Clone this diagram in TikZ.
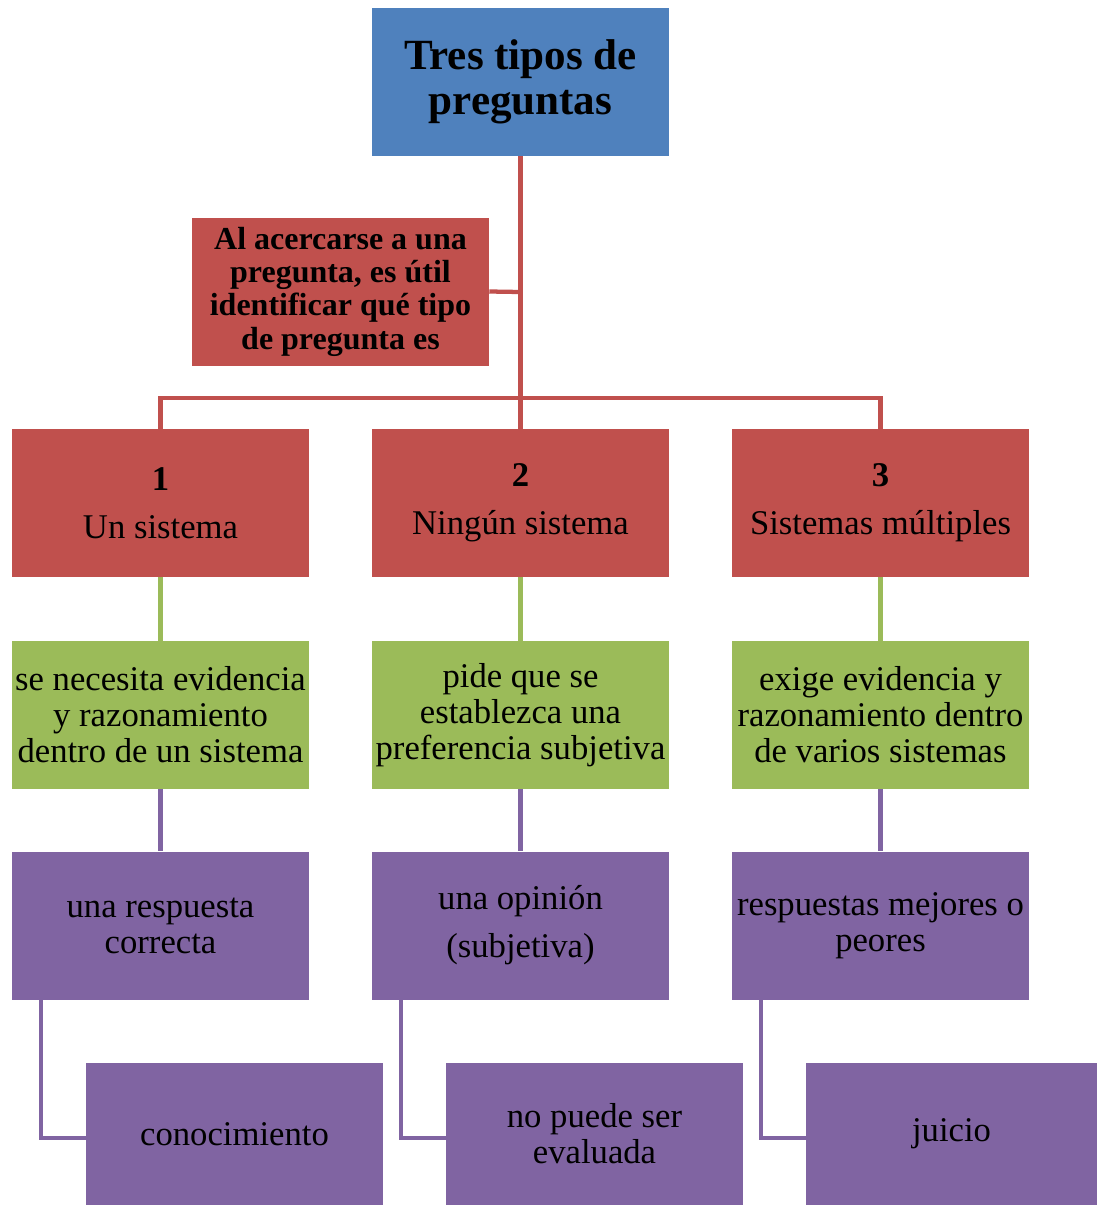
\documentclass[tikz,border=0pt]{standalone}
\usepackage{fontspec}
\setmainfont{Liberation Serif}
\usetikzlibrary{positioning}
\definecolor{titleblue}{HTML}{4F81BD}
\definecolor{boxred}{HTML}{C0504D}
\definecolor{boxgreen}{HTML}{9BBB59}
\definecolor{boxpurple}{HTML}{8064A2}
\tikzset{
    anybox/.style={draw=none, inner sep=2pt, align=center, text=black,
        minimum width=222.75pt, minimum height=111pt},
    titlebox/.style={anybox, fill=titleblue, font=\fontsize{32.3}{34}\selectfont\bfseries},
    notebox/.style={anybox, fill=boxred, font=\fontsize{24}{25}\selectfont\bfseries},
    redbox/.style={anybox, fill=boxred, font=\fontsize{26}{36}\selectfont},
    greenbox/.style={anybox, fill=boxgreen, font=\fontsize{26}{27}\selectfont},
    purplebox/.style={anybox, fill=boxpurple, font=\fontsize{26}{27}\selectfont},
    leafbox/.style={purplebox, minimum height=106.5pt},
    redline/.style={draw=boxred, line width=3.2pt},
    greenline/.style={draw=boxgreen, line width=3.2pt},
    purpleline/.style={draw=boxpurple, line width=3.2pt}
}

\begin{document}
\begin{tikzpicture}[x=0.75pt, y=-0.75pt]
    \useasboundingbox (0,0) rectangle (1097,1206);

    \coordinate (hub) at (520,292);
    \coordinate (bar) at (520,398);

    \node[titlebox] (top) at (520.5,82) {Tres tipos de\\preguntas};
    \node[notebox] (note) at (340.5,291.5) {Al acercarse a una\\pregunta, es útil\\identificar qué tipo\\de pregunta es};

    \node[redbox] (r1) at (160.5,503) {\textbf{1}\\Un sistema};
    \node[redbox] (r2) at (520.5,503) {\textbf{2}\\Ningún sistema};
    \node[redbox] (r3) at (880.5,503) {\textbf{3}\\Sistemas múltiples};

    \node[greenbox] (g1) at (160.5,715) {se necesita evidencia\\y razonamiento\\dentro de un sistema};
    \node[greenbox] (g2) at (520.5,715) {pide que se\\establezca una\\preferencia subjetiva};
    \node[greenbox] (g3) at (880.5,715) {exige evidencia y\\razonamiento dentro\\de varios sistemas};

    \node[purplebox] (p1) at (160.5,925.5) {una respuesta\\correcta};
    \node[purplebox, font=\fontsize{26}{36}\selectfont] (p2) at (520.5,925.5) {una opinión\\(subjetiva)};
    \node[purplebox] (p3) at (880.5,925.5) {respuestas mejores o\\peores};

    \node[leafbox] (l1) at (234.5,1134) {conocimiento};
    \node[leafbox] (l2) at (594.5,1134) {no puede ser\\evaluada};
    \node[leafbox, minimum width=218.25pt] (l3) at (951.5,1134) {juicio};

    % connectors
    \path[redline] (top.south) -- (r2.north);
    \path[redline] (note.east) -- (hub);
    \path[redline] (r1.north) |- (bar) -| (r3.north);

    \foreach \i in {1,2,3}{
        \path[greenline] (r\i.south) -- (g\i.north);
        \path[purpleline] (g\i.south) -- (p\i.north);
    }

    \foreach \i/\x in {1/41,2/401,3/761}{
        \path[purpleline] (\x,1000) |- ([yshift=-3pt]l\i.west);
    }
\end{tikzpicture}
\end{document}
